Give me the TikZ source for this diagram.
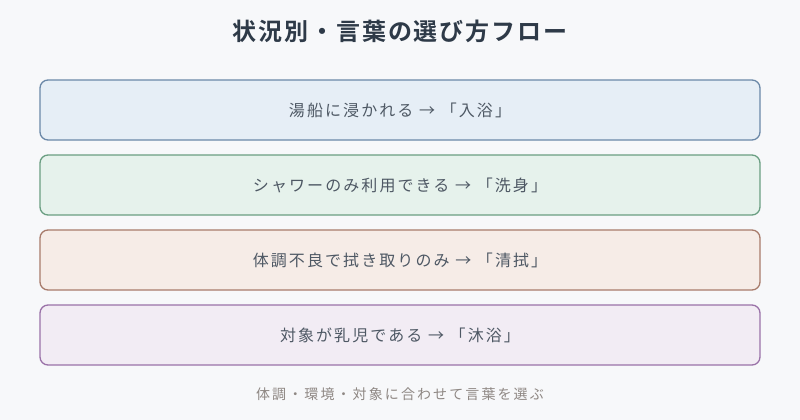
\documentclass[tikz,border=0pt]{standalone}
\usepackage{fontspec}
\setmainfont{Noto Sans CJK JP}
\newfontfamily\jpbold{Noto Sans CJK JP Bold}
\usetikzlibrary{positioning}
\definecolor{bgc}{HTML}{F7F8FA}
\definecolor{titlec}{HTML}{2E3A48}
\definecolor{textc}{HTML}{4E5864}
\definecolor{footc}{HTML}{8E8783}
\definecolor{fillA}{HTML}{E6EEF6}\definecolor{drawA}{HTML}{6B88A8}
\definecolor{fillB}{HTML}{E6F2EC}\definecolor{drawB}{HTML}{6A9E82}
\definecolor{fillC}{HTML}{F6ECE7}\definecolor{drawC}{HTML}{A87B6B}
\definecolor{fillD}{HTML}{F2ECF4}\definecolor{drawD}{HTML}{9A72A8}
\tikzset{
  rowbox/.style={rounded corners=8pt, line width=1.3pt, minimum width=720pt, minimum height=60pt, inner sep=0pt, text=textc, font=\fontsize{16pt}{20pt}\selectfont\addfontfeatures{LetterSpace=13}},
}
\begin{document}
\begin{tikzpicture}[x=1pt,y=-1pt]
\fill[bgc] (0,0) rectangle (800,420);
\useasboundingbox (0,0) rectangle (800,420);
\node[font=\jpbold\fontsize{24pt}{28pt}\selectfont\addfontfeatures{LetterSpace=8}, text=titlec] (title) at (400,31) {状況別・言葉の選び方フロー};
\node[rowbox, fill=fillA, draw=drawA] (r1) at (400,110) {湯船に浸かれる → 「入浴」};
\node[rowbox, fill=fillB, draw=drawB] (r2) at (400,185) {シャワーのみ利用できる → 「洗身」};
\node[rowbox, fill=fillC, draw=drawC] (r3) at (400,260) {体調不良で拭き取りのみ → 「清拭」};
\node[rowbox, fill=fillD, draw=drawD] (r4) at (400,335) {対象が乳児である → 「沐浴」};
\node[font=\fontsize{14pt}{18pt}\selectfont\addfontfeatures{LetterSpace=15}, text=footc] (foot) at (400,394) {体調・環境・対象に合わせて言葉を選ぶ};
\end{tikzpicture}
\end{document}
